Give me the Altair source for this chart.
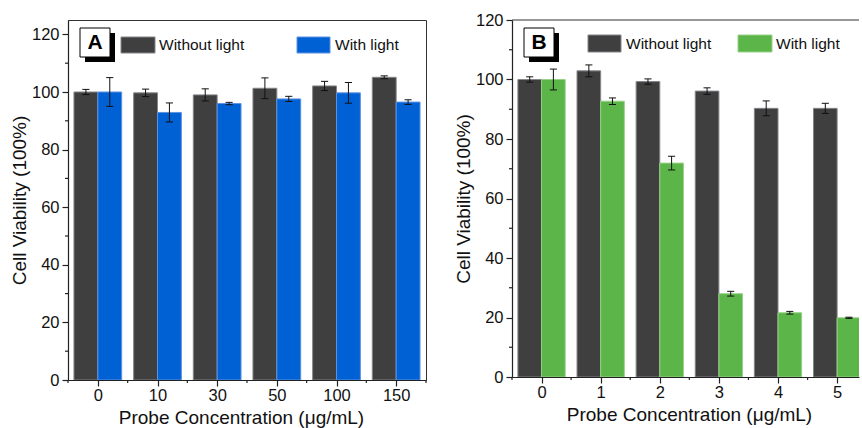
import json
import altair as alt
import pandas as pd

FONT = "Liberation Sans"

groups = ["Without light", "With light"]

# Panel A
conc_a = ["0", "10", "30", "50", "100", "150"]
dark_a = [100.0, 99.7, 99.0, 101.3, 102.1, 105.1]
dark_a_err = [0.9, 1.3, 2.1, 3.6, 1.6, 0.5]
blue_a = [100.0, 92.9, 96.0, 97.6, 99.7, 96.5]
blue_a_err = [5.0, 3.3, 0.4, 0.9, 3.6, 0.8]

# Panel B
conc_b = ["0", "1", "2", "3", "4", "5"]
dark_b = [100.0, 102.9, 99.3, 96.1, 90.3, 90.3]
dark_b_err = [0.9, 2.0, 0.9, 1.1, 2.5, 1.7]
green_b = [100.0, 92.7, 71.9, 28.0, 21.6, 19.9]
green_b_err = [3.5, 1.1, 2.3, 0.8, 0.45, 0.2]

DARK = "#3f3f3f"
DARK_EDGE = "#85858c"
BLUE = "#0061d5"
BLUE_EDGE = "#5d92e2"
GREEN = "#5bb548"
GREEN_EDGE = "#98d189"
AXIS = "#222222"


def table(cats, v1, e1, v2, e2):
    rows = []
    for i, c in enumerate(cats):
        rows.append(dict(conc=c, idx=i, group=groups[0], value=v1[i], err=e1[i]))
        rows.append(dict(conc=c, idx=i, group=groups[1], value=v2[i], err=e2[i]))
    return pd.DataFrame(rows)


one = pd.DataFrame({"k": [0]})


def panel(df, cats, color2, edge2, letter, ymax, width, height, xmax, minor_stop,
          leg, title_x, frame_full):
    xscale = alt.Scale(domain=[-0.5, xmax], nice=False, zero=False)
    yscale = alt.Scale(domain=[0, ymax], nice=False)
    arr = json.dumps(cats)
    xaxis = alt.Axis(
        values=list(range(len(cats))),
        labelExpr=f"{arr}[datum.value]",
        labelOverlap=False,
        tickSize=6,
        title="Probe Concentration (μg/mL)",
        titleX=title_x, titleY=43, titleAlign="center", titleBaseline="alphabetic",
        labelPadding=1,
    )
    yaxis = alt.Axis(
        values=list(range(0, 121, 20)),
        tickSize=6,
        title="Cell Viability (100%)",
        titleX=-43, titleY=height / 2, titleAlign="center", titleBaseline="alphabetic",
        titleAngle=270, labelPadding=3,
    )
    base = (
        alt.Chart(df)
        .transform_calculate(sgn="datum.group == 'With light' ? 1 : -1")
        .transform_calculate(x0="datum.idx + (datum.sgn > 0 ? 0 : -0.4)")
        .transform_calculate(x1="datum.idx + (datum.sgn > 0 ? 0.4 : 0)")
        .transform_calculate(xc="datum.idx + 0.2 * datum.sgn")
        .transform_calculate(lo="datum.value - datum.err")
        .transform_calculate(hi="datum.value + datum.err")
        .transform_calculate(c0="datum.xc - 0.06")
        .transform_calculate(c1="datum.xc + 0.06")
    )
    bars = base.mark_rect(strokeWidth=1, clip=True).encode(
        x=alt.X("x0:Q", scale=xscale, axis=xaxis),
        x2="x1:Q",
        y=alt.Y("value:Q", scale=yscale, axis=yaxis),
        y2=alt.datum(0),
        color=alt.Color("group:N", scale=alt.Scale(domain=groups, range=[DARK, color2]), legend=None),
        stroke=alt.Stroke("group:N", scale=alt.Scale(domain=groups, range=[DARK_EDGE, edge2]), legend=None),
    )
    err = base.mark_rule(color="#111111", strokeWidth=1).encode(
        x="xc:Q", y="lo:Q", y2="hi:Q")
    cap_hi = base.mark_rule(color="#111111", strokeWidth=1).encode(
        x="c0:Q", x2="c1:Q", y="hi:Q")
    cap_lo = base.mark_rule(color="#111111", strokeWidth=1).encode(
        x="c0:Q", x2="c1:Q", y="lo:Q")

    # minor ticks
    xminor = alt.Chart(alt.sequence(-0.5, minor_stop, 1)).mark_rule(
        color=AXIS, strokeWidth=1.2).encode(
        x=alt.X("data:Q", scale=xscale), y=alt.value(height), y2=alt.value(height + 3))
    yminor = alt.Chart(alt.sequence(10, 121, 20)).mark_rule(
        color=AXIS, strokeWidth=1.2).encode(
        y=alt.Y("data:Q", scale=yscale), x=alt.value(0), x2=alt.value(-3))

    ann = alt.Chart(one)
    shadow = ann.mark_rect(color="#000000").encode(
        x=alt.value(17), x2=alt.value(47), y=alt.value(13), y2=alt.value(42))
    box = ann.mark_rect(fill="white", stroke="#000000", strokeWidth=1).encode(
        x=alt.value(12), x2=alt.value(42), y=alt.value(8), y2=alt.value(37))
    let = ann.mark_text(font=FONT, fontSize=21, fontWeight="bold", color="#000000",
                        align="center", baseline="middle").encode(
        x=alt.value(27), y=alt.value(23), text=alt.value(letter))
    (sx1, sx2, tx1, sx3, sx4, tx2, sy1, sy2) = leg
    sw1 = ann.mark_rect(fill=DARK, stroke=DARK_EDGE, strokeWidth=1).encode(
        x=alt.value(sx1), x2=alt.value(sx2), y=alt.value(sy1), y2=alt.value(sy2))
    t1 = ann.mark_text(font=FONT, fontSize=15.5, color="#111111", align="left",
                       baseline="middle").encode(
        x=alt.value(tx1), y=alt.value((sy1 + sy2) / 2), text=alt.value(groups[0]))
    sw2 = ann.mark_rect(fill=color2, stroke=edge2, strokeWidth=1).encode(
        x=alt.value(sx3), x2=alt.value(sx4), y=alt.value(sy1), y2=alt.value(sy2))
    t2 = ann.mark_text(font=FONT, fontSize=15.5, color="#111111", align="left",
                       baseline="middle").encode(
        x=alt.value(tx2), y=alt.value((sy1 + sy2) / 2), text=alt.value(groups[1]))

    layers = [bars, err, cap_hi, cap_lo, xminor, yminor, shadow, box, let, sw1, t1, sw2, t2]
    if frame_full:
        view = alt.ViewBackground(stroke="#333333", strokeWidth=1)
    else:
        view = alt.ViewBackground(stroke="transparent")
        top = ann.mark_rule(color="#333333", strokeWidth=1).encode(
            x=alt.value(0), x2=alt.value(width), y=alt.value(0))
        layers.append(top)
    return alt.layer(*layers).properties(width=width, height=height, view=view)


df_a = table(conc_a, dark_a, dark_a_err, blue_a, blue_a_err)
df_b = table(conc_b, dark_b, dark_b_err, green_b, green_b_err)

chart_a = panel(df_a, conc_a, BLUE, BLUE_EDGE, "A", 125, 358, 360, 5.5, 6,
                (53, 87, 91, 229, 262, 267, 17, 33), 173, True)
chart_b = panel(df_b, conc_b, GREEN, GREEN_EDGE, "B", 120, 347, 357, 5.37, 5,
                (76, 109, 114, 226, 260, 264, 15, 32), 177, False)

chart = (
    alt.hconcat(chart_a, chart_b, spacing=86, bounds="flush")
    .resolve_scale(color="independent", stroke="independent")
    .properties(padding={"left": 9, "top": 11, "right": 0, "bottom": 0},
                background="white")
    .configure_axis(
        grid=False,
        domainColor=AXIS, domainWidth=1.2,
        tickColor=AXIS, tickWidth=1.2,
        labelFont=FONT, labelFontSize=16.5, labelColor="#111111",
        titleFont=FONT, titleFontSize=19, titleFontWeight="normal", titleColor="#111111",
    )
)

chart.save("out.html", embed_options={"renderer": "svg", "actions": False})
